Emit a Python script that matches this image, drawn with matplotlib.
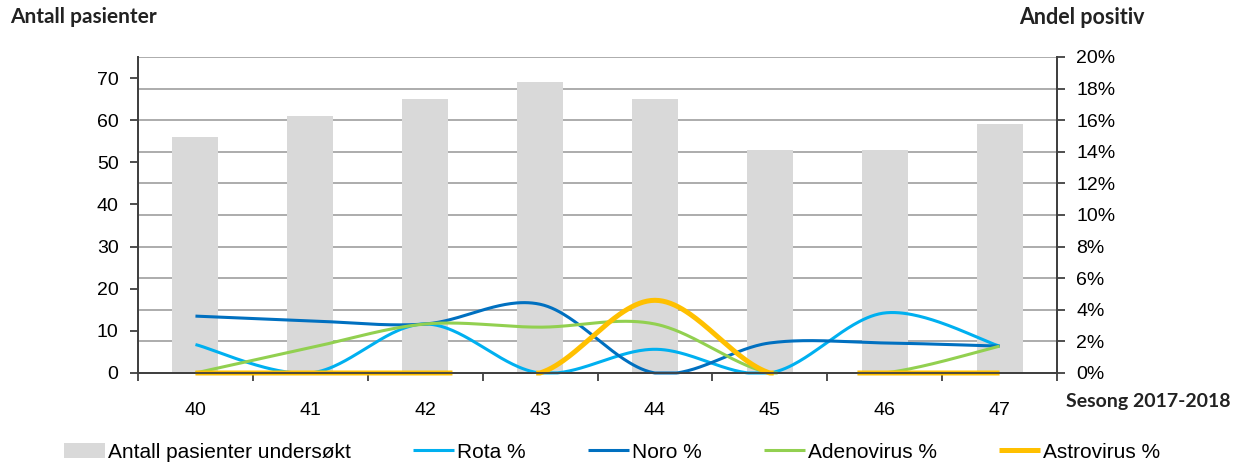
import numpy as np
import matplotlib
matplotlib.use("Agg")
import matplotlib.pyplot as plt
from matplotlib.ticker import FuncFormatter

plt.rcParams['font.family'] = ['Liberation Sans', 'DejaVu Sans']

# weeks and number of patients examined
weeks = ['40', '41', '42', '43', '44', '45', '46', '47']
patients = [56, 61, 65, 69, 65, 53, 53, 59]

# share positive, in percent
rota = [1.8, 0.0, 3.1, 0.0, 1.5, 0.0, 3.8, 1.7]
noro = [3.6, 3.3, 3.1, 4.35, 0.0, 1.9, 1.9, 1.7]
adeno = [0.0, 1.6, 3.1, 2.9, 3.1, 0.0, 0.0, 1.7]
astro = [0.0, 0.0, 0.0, 0.0, 4.6, 0.0, 0.0, 0.0]


# Excel style smoothed line: bezier segments with control points at 1/6 of neighbour difference
def smooth(xs, ys, n=60):
    xs = np.asarray(xs, float)
    ys = np.asarray(ys, float)
    px = np.concatenate([[xs[0]], xs, [xs[-1]]])
    py = np.concatenate([[ys[0]], ys, [ys[-1]]])
    out_x, out_y = [], []
    t = np.linspace(0, 1, n)
    for i in range(1, len(px) - 2):
        x0, x1, x2, x3 = px[i - 1], px[i], px[i + 1], px[i + 2]
        y0, y1, y2, y3 = py[i - 1], py[i], py[i + 1], py[i + 2]
        c1x, c1y = x1 + (x2 - x0) / 6, y1 + (y2 - y0) / 6
        c2x, c2y = x2 - (x3 - x1) / 6, y2 - (y3 - y1) / 6
        bx = (1-t)**3*x1 + 3*(1-t)**2*t*c1x + 3*(1-t)*t**2*c2x + t**3*x2
        by = (1-t)**3*y1 + 3*(1-t)**2*t*c1y + 3*(1-t)*t**2*c2y + t**3*y2
        out_x.append(bx)
        out_y.append(by)
    cx = np.concatenate(out_x)
    cy = np.concatenate(out_y)
    cy = np.where(cy < -0.1, np.nan, np.maximum(cy, 0))  # parts below the axis are not drawn
    return cx, cy


x = np.arange(len(weeks))

fig = plt.figure(figsize=(12.39, 4.66), dpi=100)
ax = fig.add_axes([0.1114, 0.1996, 0.7417, 0.6781])
ax2 = ax.twinx()

# gridlines follow the right axis (every 2 %)
for g in np.arange(7.5, 76, 7.5):
    ax.axhline(g, color='#a6a6a6', lw=1.3, zorder=0)

bars = ax.bar(x, patients, width=0.4, color='#d9d9d9', zorder=1,
              label='Antall pasienter undersøkt')

series = [(rota, '#00b0f0', 2.2, 'Rota %'),
          (noro, '#0070c0', 2.2, 'Noro %'),
          (adeno, '#92d050', 2.2, 'Adenovirus %'),
          (astro, '#ffc000', 3.6, 'Astrovirus %')]
handles = [bars]
for vals, col, lw, lab in series:
    sx, sy = smooth(x, vals)
    ln, = ax2.plot(sx, sy / 100, color=col, lw=lw, label=lab, clip_on=False,
                   solid_capstyle='butt')
    handles.append(ln)

ax.set_xlim(-0.5, len(weeks) - 0.5)
ax.set_ylim(0, 75)
ax2.set_ylim(0, 0.20)

ax.set_yticks(np.arange(0, 71, 10))
ax2.set_yticks(np.arange(0, 0.201, 0.02))
ax2.yaxis.set_major_formatter(FuncFormatter(lambda v, p: f'{v*100:.0f}%'))

ax.set_xticks(np.arange(-0.5, len(weeks), 1))
ax.set_xticklabels([])
ax.set_xticks(x, minor=True)
ax.set_xticklabels(weeks, minor=True)
ax.tick_params(axis='x', which='minor', length=0, pad=21, labelsize=14, colors='#000000')
ax.tick_params(axis='x', which='major', length=6, width=1.3, color='#404040')
ax.tick_params(axis='y', length=6, width=1.3, color='#404040', pad=8, labelsize=14)
ax2.tick_params(axis='y', length=6, width=1.3, color='#404040', pad=8, labelsize=14)

for a in (ax, ax2):
    a.spines['top'].set_visible(False)
    for s in ('left', 'right', 'bottom'):
        a.spines[s].set_color('#404040')
        a.spines[s].set_linewidth(1.3)

fig.text(10 / 1239, 1 - 17 / 466, 'Antall pasienter', fontsize=15, fontweight='bold',
         family=['Lato', 'DejaVu Sans'], va='center', ha='left', color='#222222')
fig.text(1145 / 1239, 1 - 17 / 466, 'Andel positiv', fontsize=15.5, fontweight='bold',
         family=['Lato', 'DejaVu Sans'], va='center', ha='right', color='#222222')
fig.text(1230 / 1239, 1 - 401 / 466, 'Sesong 2017-2018', fontsize=14, fontweight='bold',
         family=['Lato', 'DejaVu Sans'], va='center', ha='right', color='#222222')

fig.legend(handles=handles, loc='center', bbox_to_anchor=(612 / 1239, 1 - 452 / 466),
           ncol=5, frameon=False, fontsize=15, handlelength=1.95, handletextpad=0.15,
           columnspacing=3.0, borderpad=0)

fig.savefig('out.png', dpi=100)
